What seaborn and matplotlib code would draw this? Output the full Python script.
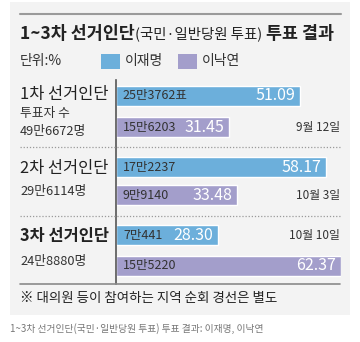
import matplotlib
matplotlib.use("Agg")
import matplotlib.pyplot as plt
import seaborn as sns
import pandas as pd
from matplotlib.patches import Rectangle
from matplotlib.lines import Line2D

# ---- data ----
rounds = ["1차", "1차", "2차", "2차", "3차", "3차"]
candidates = ["이재명", "이낙연", "이재명", "이낙연", "이재명", "이낙연"]
shares = [51.09, 31.45, 58.17, 33.48, 28.30, 62.37]
vote_labels = ["25만3762표", "15만6203", "17만2237", "9만9140", "7만441", "15만5220"]
date_labels = ["", "9월 12일", "", "10월 3일", "10월 10일", ""]
group_titles = ["1차 선거인단", "2차 선거인단", "3차 선거인단"]
group_subs = [["투표자 수", "49만6672명"], ["29만6114명"], ["24만8880명"]]
legend_names = ["이재명", "이낙연"]
title_parts = ["1~3차 선거인단", "(국민·일반당원 투표)", " 투표 결과"]
unit_label = "단위:%"
footnote = "※ 대의원 등이 참여하는 지역 순회 경선은 별도"
caption = "1~3차 선거인단(국민·일반당원 투표) 투표 결과: 이재명, 이낙연"

# ---- layout (pixels) ----
W, H = 360, 342
bar_centers = [96, 127, 167, 195, 235, 266]
colors = {"이재명": "#6cafdb", "이낙연": "#a39ecb"}

sns.set_style("white")
plt.rcParams["font.family"] = ["Noto Sans CJK KR", "DejaVu Sans"]

fig = plt.figure(figsize=(W / 100, H / 100), dpi=100)
fig.patch.set_facecolor("white")


def fx(x):
    return x / W


def fy(y):
    return 1 - y / H


# panel background
fig.patches.append(Rectangle((fx(10), fy(315)), fx(340), (315 - 2) / H,
                             transform=fig.transFigure, facecolor="#f3f3f3",
                             edgecolor="none", zorder=-10))
# top rule
fig.add_artist(Line2D([fx(20), fx(341)], [fy(14), fy(14)], color="#9a9a9a", lw=1.5))

# title
renderer = fig.canvas.get_renderer()
x = 20
styles = [dict(fontsize=12.5, fontweight="bold"), dict(fontsize=10.4, fontweight="normal"),
          dict(fontsize=12.5, fontweight="bold")]
for part, st in zip(title_parts, styles):
    t = fig.text(fx(x), fy(34), part, ha="left", va="center", color="#222222", **st)
    bb = t.get_window_extent(renderer)
    x += bb.width

# unit + legend
fig.text(fx(20), fy(61), unit_label, ha="left", va="center", fontsize=10, color="#333333")
leg_x = [101, 178]
for lx, name in zip(leg_x, legend_names):
    fig.patches.append(Rectangle((fx(lx), fy(69)), 19 / W, 15 / H, transform=fig.transFigure,
                                 facecolor=colors[name], edgecolor="none"))
    fig.text(fx(lx + 24), fy(61), name, ha="left", va="center", fontsize=10, color="#333333")

# bar axes
ax = fig.add_axes([fx(116), fy(284), (341 - 116) / W, (284 - 80) / H])
ax.set_facecolor("none")
df = pd.DataFrame({"share": shares, "ypos": bar_centers, "candidate": candidates,
                   "round": rounds})
sns.barplot(data=df, x="share", y="ypos", hue="candidate", palette=colors, orient="h",
            native_scale=True, dodge=False, width=20 / 28, errorbar=None, legend=False,
            ax=ax, saturation=1)
ax.set_xlim(0, 62.37)
ax.set_ylim(284, 80)
for s in ["top", "right", "bottom"]:
    ax.spines[s].set_visible(False)
ax.spines["left"].set_color("#555555")
ax.spines["left"].set_linewidth(1.2)
ax.set_xticks([])
ax.set_yticks([])
ax.set_xlabel("")
ax.set_ylabel("")

for val, yc, vl in zip(shares, bar_centers, vote_labels):
    ax.annotate(vl, (0, yc), xytext=(5, 0), textcoords="offset points", ha="left",
                va="center", fontsize=9, color="#333333")
    ax.annotate(f"{val:.2f}", (val, yc), xytext=(-3.5, 0), textcoords="offset points",
                ha="right", va="center", fontsize=11.5, color="white")

for yc, dl in zip(bar_centers, date_labels):
    if dl:
        fig.text(fx(340), fy(yc), dl, ha="right", va="center", fontsize=8.5, color="#333333")

# separators
for yy in [147, 216]:
    fig.add_artist(Line2D([fx(20), fx(340)], [fy(yy), fy(yy)], color="#9a9a9a", lw=0.9,
                          linestyle=(0, (1, 1.5))))
fig.add_artist(Line2D([fx(20), fx(340)], [fy(284), fy(284)], color="#8a8a8a", lw=1.2))

# group labels
title_y = [95, 168, 236]
sub_y = [[113, 131], [191], [262]]
for i, (gt, subs) in enumerate(zip(group_titles, group_subs)):
    fig.text(fx(20), fy(title_y[i]), gt, ha="left", va="center", fontsize=11.8,
             fontweight="bold" if i == 2 else "normal", color="#222222")
    for s, yy in zip(subs, sub_y[i]):
        fig.text(fx(20), fy(yy), s, ha="left", va="center", fontsize=9.2, color="#333333")

fig.text(fx(20), fy(298), footnote, ha="left", va="center", fontsize=9.7, color="#222222")
fig.text(fx(10), fy(329), caption, ha="left", va="center", fontsize=7.0, color="#777777")

fig.savefig("out.png", dpi=100)
